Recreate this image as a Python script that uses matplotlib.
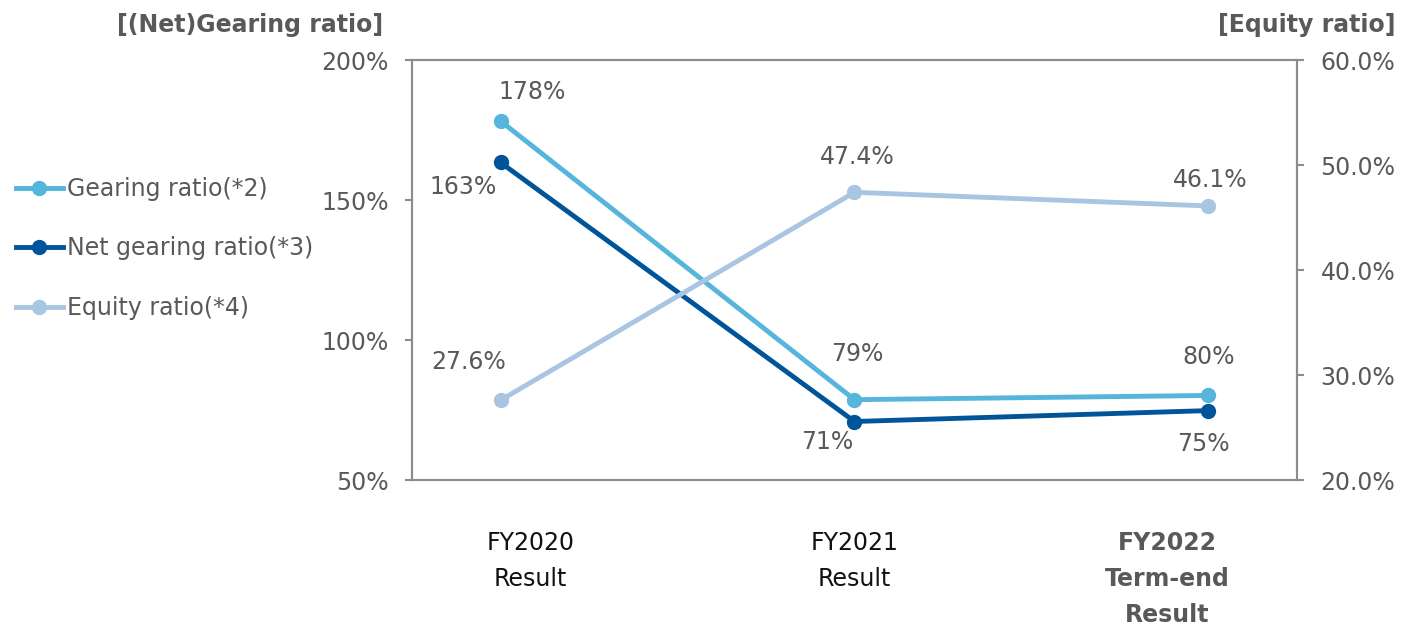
import matplotlib.pyplot as plt
from matplotlib.ticker import FuncFormatter

# datos
categorias = ['FY2020\nResult', 'FY2021\nResult', 'FY2022\nTerm-end\nResult']
gearing = [178.2, 78.7, 80.2]
net_gearing = [163.4, 70.9, 74.8]
equity = [27.6, 47.4, 46.1]

C_GEAR = '#55B5DA'
C_NET = '#00549A'
C_EQ = '#A8C5E2'
GRIS = '#595959'
SPINE = '#8C8C8C'
FS = 17

plt.rcParams['font.family'] = 'DejaVu Sans'

fig = plt.figure(figsize=(14.03, 6.27), dpi=100)
ax = fig.add_axes([0.2937, 0.2344, 0.6307, 0.6699])
ax2 = ax.twinx()

x = range(len(categorias))
l1, = ax.plot(x, gearing, color=C_GEAR, lw=3.5, marker='o', ms=10, label='Gearing ratio(*2)', zorder=3)
l2, = ax.plot(x, net_gearing, color=C_NET, lw=3.5, marker='o', ms=10, label='Net gearing ratio(*3)', zorder=3)
l3, = ax2.plot(x, equity, color=C_EQ, lw=3.5, marker='o', ms=10, label='Equity ratio(*4)', zorder=2)

ax.set_xlim(-0.25, 2.25)
ax.set_ylim(50, 200)
ax2.set_ylim(20, 60)
ax.set_yticks([50, 100, 150, 200])
ax2.set_yticks([20, 30, 40, 50, 60])
ax.yaxis.set_major_formatter(FuncFormatter(lambda v, p: f'{v:.0f}%'))
ax2.yaxis.set_major_formatter(FuncFormatter(lambda v, p: f'{v:.1f}%'))

# etiquetas de categorias (desplazadas como en el original)
ax.set_xticks([0.085, 1.0, 1.884])
ax.set_xticklabels(categorias, linespacing=1.62)
ax.tick_params(axis='x', length=0, pad=37, labelsize=FS)
for i, t in enumerate(ax.get_xticklabels()):
    t.set_verticalalignment('top')
    if i == 2:
        t.set_fontweight('bold')
        t.set_color(GRIS)
    else:
        t.set_color('#111111')

for a in (ax, ax2):
    for s in a.spines.values():
        s.set_color(SPINE)
        s.set_linewidth(1.5)
ax.tick_params(axis='y', length=5, width=1.5, color=SPINE, labelcolor=GRIS, labelsize=FS, pad=12)
ax2.tick_params(axis='y', length=5, width=1.5, color=SPINE, labelcolor=GRIS, labelsize=FS, pad=12)

# etiquetas de datos
def etiqueta(a, xi, yi, txt, dx, dy):
    a.annotate(txt, (xi, yi), xytext=(dx, dy), textcoords='offset pixels',
               ha='center', va='center', fontsize=FS, color=GRIS)

off_gear = [(32, 29), (3, 46), (0, 38)]
off_net = [(-37, -25), (-27, -20), (-5, -33)]
off_eq = [(-32, 38), (3, 35), (2, 26)]
for i in x:
    etiqueta(ax, i, gearing[i], f'{gearing[i]:.0f}%', *off_gear[i])
    etiqueta(ax, i, net_gearing[i], f'{net_gearing[i]:.0f}%', *off_net[i])
    etiqueta(ax2, i, equity[i], f'{equity[i]:.1f}%', *off_eq[i])

fig.text(383 / 1403, 1 - 25 / 627, '[(Net)Gearing ratio]', ha='right', va='center',
         fontsize=FS, fontweight='bold', color=GRIS)
fig.text(1395 / 1403, 1 - 25 / 627, '[Equity ratio]', ha='right', va='center',
         fontsize=FS, fontweight='bold', color=GRIS)

fig.legend(handles=[l1, l2, l3], loc='upper left', bbox_to_anchor=(0.006, 1 - 170 / 627),
           frameon=False, fontsize=FS, labelcolor=GRIS, handlelength=2.0,
           handletextpad=0.2, labelspacing=1.5, borderaxespad=0, borderpad=0.3)

fig.savefig('out.png', dpi=100)
